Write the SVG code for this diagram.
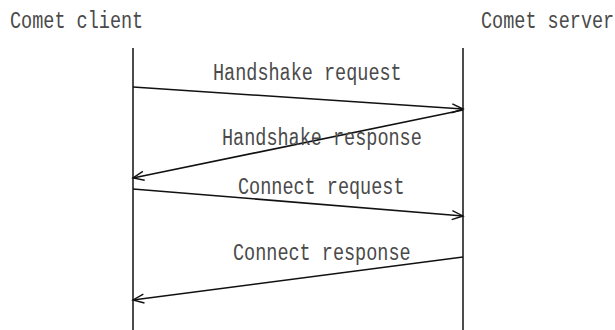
<svg xmlns="http://www.w3.org/2000/svg" width="615" height="330" viewBox="0 0 615 330">
<style>
.lbl{font-family:"Liberation Mono","DejaVu Sans Mono",monospace;font-size:18.5px;fill:#4a4a4a}
.life{stroke:#111;stroke-width:1.5;fill:none}
.msg{stroke:#111;stroke-width:1.6;fill:none;marker-end:url(#ah)}
</style>
<defs>
<marker id="ah" markerUnits="userSpaceOnUse" markerWidth="14" markerHeight="12" refX="12" refY="5" orient="auto" viewBox="0 0 14 10">
<path d="M1,0.5 L12,5 L1,9.5" fill="none" stroke="#111" stroke-width="1.4"/>
</marker>
</defs>
<rect width="615" height="330" fill="#fff"/>
<g id="client">
<text class="lbl" transform="translate(10,28) scale(1,1.25)">Comet client</text>
<line class="life" x1="133" y1="48" x2="133" y2="330"/>
</g>
<g id="server">
<text class="lbl" transform="translate(481,28) scale(1,1.25)">Comet server</text>
<line class="life" x1="463" y1="48" x2="463" y2="330"/>
</g>
<g id="connectors">
<line class="msg" x1="133" y1="87" x2="463" y2="109"/>
<line class="msg" x1="463" y1="110" x2="133" y2="178"/>
<line class="msg" x1="133" y1="189" x2="463" y2="216"/>
<line class="msg" x1="463" y1="257" x2="133" y2="300"/>
<text class="lbl" transform="translate(213,80) scale(1,1.25)">Handshake request</text>
<text class="lbl" transform="translate(222,145) scale(1,1.25)">Handshake response</text>
<text class="lbl" transform="translate(238,194) scale(1,1.25)">Connect request</text>
<text class="lbl" transform="translate(233,260) scale(1,1.25)">Connect response</text>
</g>
</svg>
